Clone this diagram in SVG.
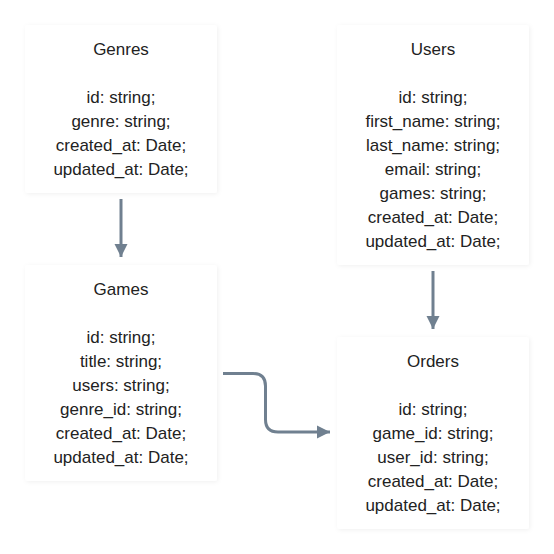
<svg xmlns="http://www.w3.org/2000/svg" width="554" height="554" viewBox="0 0 554 554">
  <defs>
    <filter id="sh" x="-10%" y="-10%" width="120%" height="120%">
      <feDropShadow dx="1" dy="1" stdDeviation="2" flood-color="#000" flood-opacity="0.06"/>
    </filter>
    <marker id="ah" viewBox="0 0 10 10" refX="10" refY="5" markerWidth="4.5" markerHeight="4.5" markerUnits="strokeWidth" orient="auto">
      <path d="M0,0 L10,5 L0,10 Z" fill="#708090"/>
    </marker>
  </defs>
  <style>
    .box { fill: #ffffff; filter: url(#sh); }
    text { font-family: "Liberation Sans", Arial, sans-serif; font-size: 17px; fill: #222222; text-anchor: middle; }
    .edge { fill: none; stroke: #708090; stroke-width: 3; marker-end: url(#ah); }
  </style>
  <rect width="554" height="554" fill="#ffffff"/>

  <g id="connectors">
    <path class="edge" d="M121,199 L121,257"/>
    <path class="edge" d="M433,271 L433,329"/>
    <path class="edge" d="M223,373.5 L253,373.5 Q265.5,373.5 265.5,386 L265.5,419.5 Q265.5,432 278,432 L330,432"/>
  </g>

  <g id="genres">
    <rect class="box" x="25" y="25" width="192" height="168" rx="3"/>
    <text x="121" y="55">Genres</text>
    <text x="121" y="103">id: string;</text>
    <text x="121" y="127">genre: string;</text>
    <text x="121" y="151">created_at: Date;</text>
    <text x="121" y="175">updated_at: Date;</text>
  </g>

  <g id="users">
    <rect class="box" x="337" y="25" width="192" height="240" rx="3"/>
    <text x="433" y="55">Users</text>
    <text x="433" y="103">id: string;</text>
    <text x="433" y="127">first_name: string;</text>
    <text x="433" y="151">last_name: string;</text>
    <text x="433" y="175">email: string;</text>
    <text x="433" y="199">games: string;</text>
    <text x="433" y="223">created_at: Date;</text>
    <text x="433" y="247">updated_at: Date;</text>
  </g>

  <g id="games">
    <rect class="box" x="25" y="265" width="192" height="216" rx="3"/>
    <text x="121" y="295">Games</text>
    <text x="121" y="343">id: string;</text>
    <text x="121" y="367">title: string;</text>
    <text x="121" y="391">users: string;</text>
    <text x="121" y="415">genre_id: string;</text>
    <text x="121" y="439">created_at: Date;</text>
    <text x="121" y="463">updated_at: Date;</text>
  </g>

  <g id="orders">
    <rect class="box" x="337" y="337" width="192" height="192" rx="3"/>
    <text x="433" y="367">Orders</text>
    <text x="433" y="415">id: string;</text>
    <text x="433" y="439">game_id: string;</text>
    <text x="433" y="463">user_id: string;</text>
    <text x="433" y="487">created_at: Date;</text>
    <text x="433" y="511">updated_at: Date;</text>
  </g>
</svg>
